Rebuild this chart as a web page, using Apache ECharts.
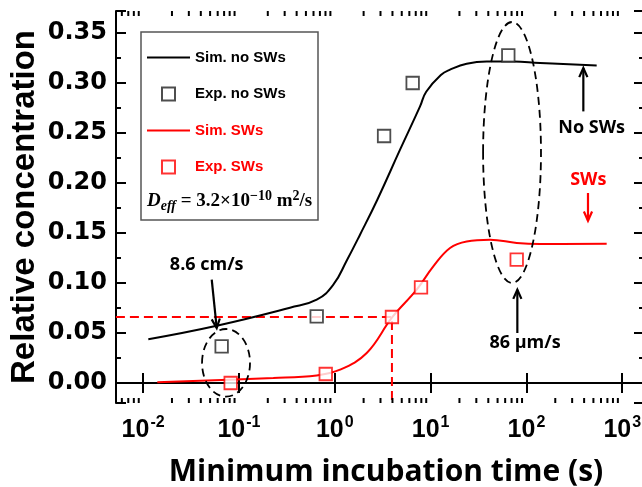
<!DOCTYPE html>
<html><head><meta charset="utf-8">
<script src="https://cdn.jsdelivr.net/npm/echarts@6/dist/echarts.min.js"></script>
<style>html,body{margin:0;padding:0;background:#fff}#c{width:642px;height:487px}</style>
</head><body><div id="c"></div>
<script>
// ---------- data ----------
const simNoT = [0.01133, 0.0586, 0.341, 0.648, 0.966, 1.33, 1.834, 2.78, 4.80, 7.76, 9.0, 12.9, 15.95, 23.8, 38.5, 73, 138.7, 541];
const simNoV = [0.0438, 0.0573, 0.0753, 0.0833, 0.0983, 0.1223, 0.1483, 0.1833, 0.2333, 0.2766, 0.2913, 0.3083, 0.3133, 0.3193, 0.3216, 0.3216, 0.3200, 0.3176];
const expNoT = [0.066, 0.648, 3.27, 6.5, 64.7];
const expNoV = [0.0366, 0.0666, 0.247, 0.300, 0.3276];
const simSwT = [0.01407, 0.2285, 0.648, 1.135, 2.155, 3.98, 7.16, 10.67, 15.95, 23.8, 41.7, 79.2, 138.7, 688];
const simSwV = [0.0008, 0.0050, 0.0076, 0.0133, 0.0300, 0.0658, 0.0933, 0.1166, 0.1350, 0.1416, 0.1433, 0.1400, 0.1390, 0.1393];
const expSwT = [0.082, 0.805, 3.95, 7.94, 79.2];
const expSwV = [0.000, 0.009, 0.066, 0.0956, 0.1233];
const guideT = [0.0052, 3.95, 3.95];
const guideV = [0.066, 0.066, -0.02];
const xMajorTicks = [0.01, 0.1, 1, 10, 100, 1000];
const xMinorTicks = [0.006,0.007,0.008,0.009,0.02,0.03,0.04,0.05,0.06,0.07,0.08,0.09,0.2,0.3,0.4,0.5,0.6,0.7,0.8,0.9,2,3,4,5,6,7,8,9,20,30,40,50,60,70,80,90,200,300,400,500,600,700,800,900];
const yMinorTicks = [0.025,0.075,0.125,0.175,0.225,0.275,0.325];
// annotations (data coordinates)
const ellipseTLeft = [0.0412, 35.3];
const ellipseTRight = [0.1305, 141.9];
const ellipseVBottom = [-0.0137, 0.100];
const ellipseVTop = [0.054, 0.361];
const arrowFromT = [0.052, 392.6, 439, 80.4];
const arrowFromV = [0.1033, 0.2716, 0.190, 0.050];
const arrowToT = [0.0586, 392.6, 439, 80.4];
const arrowToV = [0.055, 0.315, 0.1623, 0.0933];
const noteText = ['8.6 cm/s', 'No SWs', 'SWs', '86 \u03bcm/s'];
const noteT = [0.0461, 480, 442, 96.7];
const noteV = [0.1183, 0.255, 0.2033, 0.040];

// ---------- styling ----------
const RED = '#ff0000';
const arrowColors = ['#000', '#000', RED, '#000'];
const noteColors = ['#000', '#000', RED, '#000'];
const X_MIN = Math.pow(10, -2.283), X_MAX = Math.pow(10, 3.227);
const Y_MIN = -0.02, Y_MAX = 0.372;
const pair = (a, b) => a.map((v, i) => [v, b[i]]);
const LINE_ICON = 'path://M0,0H43V2.2H0Z';
const SQ_ICON = 'path://M0,0H10V10H0Z';

const chart = echarts.init(document.getElementById('c'), null, {renderer: 'canvas'});
const axisLineStyle = {show: true, lineStyle: {color: '#000', width: 2}};
const xBase = {type: 'log', logBase: 10, min: X_MIN, max: X_MAX, gridIndex: 0,
  splitLine: {show: false}, axisLine: axisLineStyle,
  axisTick: {show: true, inside: true, length: 10, lineStyle: {color: '#000', width: 2}}};
const yBase = {type: 'value', min: Y_MIN, max: Y_MAX, splitNumber: 8, gridIndex: 0,
  splitLine: {show: false}, axisLine: axisLineStyle,
  axisTick: {show: true, inside: true, length: 10, lineStyle: {color: '#000', width: 2}}};

const option = {
  animation: false,
  backgroundColor: '#fff',
  grid: {left: 116, top: 11, width: 528, height: 392, containLabel: false, outerBoundsMode: 'none'},
  xAxis: [
    Object.assign({}, xBase, {position: 'bottom',
      name: 'Minimum incubation time (s)', nameLocation: 'middle', nameGap: 52,
      nameTextStyle: {fontFamily: 'Open Sans', fontWeight: 'bold', fontSize: 30, color: '#000', lineHeight: 34, padding: [0, 0, 0, 12]},
      axisLabel: {margin: 12, color: '#000',
        formatter: function (v) {
          const e = Math.log10(v), r = Math.round(e);
          if (Math.abs(e - r) > 1e-6) return '';
          return '{b|10}{s|' + r + '}';
        },
        rich: {
          b: {fontFamily: 'Liberation Sans', fontWeight: 'bold', fontSize: 25, lineHeight: 28, verticalAlign: 'bottom', color: '#000'},
          s: {fontFamily: 'Liberation Sans', fontWeight: 'bold', fontSize: 16, lineHeight: 16, padding: [0, 0, 19, 1], verticalAlign: 'top', color: '#000'}
        }}}),
    Object.assign({}, xBase, {position: 'top', axisLabel: {show: false}})
  ],
  yAxis: [
    Object.assign({}, yBase, {position: 'left',
      name: 'Relative concentration', nameLocation: 'middle', nameGap: 73, nameMoveOverlap: false,
      nameTextStyle: {fontFamily: 'Liberation Sans', fontWeight: 'bold', fontSize: 33, color: '#000', lineHeight: 36},
      axisLabel: {margin: 9, color: '#000', fontFamily: 'DejaVu Sans', fontWeight: 'bold', fontSize: 24,
        formatter: function (v) {
          const k = v / 0.05;
          if (Math.abs(k - Math.round(k)) > 1e-6) return '';
          return v.toFixed(2);
        }}}),
    Object.assign({}, yBase, {position: 'right', axisLabel: {show: false}})
  ],
  legend: {
    orient: 'vertical', left: 147, top: 50, padding: 0,
    itemWidth: 43, itemHeight: 13, itemGap: 21.5,
    textStyle: {fontFamily: 'Liberation Sans', fontWeight: 'bold', fontSize: 15},
    data: [
      {name: 'Sim. no SWs', icon: LINE_ICON, textStyle: {color: '#000'}},
      {name: 'Exp. no SWs', icon: SQ_ICON, textStyle: {color: '#000'}},
      {name: 'Sim. SWs', icon: LINE_ICON, textStyle: {color: RED}},
      {name: 'Exp. SWs', icon: SQ_ICON, textStyle: {color: RED}}
    ],
    selectedMode: false
  },
  graphic: [
    {type: 'rect', shape: {x: 141, y: 32, width: 177, height: 188}, style: {fill: null, stroke: '#555', lineWidth: 1.5}, z: 1},
    {type: 'text', x: 147, y: 189, z: 2, style: {
      text: '{d|D}{e|eff}{n| = 3.2\u00d710}{p|\u221210}{n| m}{q|2}{n|/s}',
      rich: {
        d: {fontFamily: 'Liberation Serif', fontStyle: 'italic', fontWeight: 'bold', fontSize: 19, lineHeight: 24, verticalAlign: 'middle', fill: '#000'},
        e: {fontFamily: 'Liberation Serif', fontStyle: 'italic', fontWeight: 'bold', fontSize: 14, lineHeight: 14, padding: [10, 0, 0, 0], verticalAlign: 'bottom', fill: '#000'},
        n: {fontFamily: 'Liberation Serif', fontWeight: 'bold', fontSize: 19, lineHeight: 24, verticalAlign: 'middle', fill: '#000'},
        p: {fontFamily: 'Liberation Serif', fontWeight: 'bold', fontSize: 14, lineHeight: 14, padding: [0, 0, 10, 0], verticalAlign: 'top', fill: '#000'},
        q: {fontFamily: 'Liberation Serif', fontWeight: 'bold', fontSize: 14, lineHeight: 14, padding: [0, 0, 10, 0], verticalAlign: 'top', fill: '#000'}
      }}}
  ],
  series: [
    {name: 'guide', type: 'line', data: pair(guideT, guideV), symbol: 'none', silent: true, z: 2,
      lineStyle: {color: RED, width: 2, type: [9, 5]}},
    {name: 'Sim. no SWs', type: 'line', data: pair(simNoT, simNoV), symbol: 'none', smooth: 0.45,
      lineStyle: {color: '#000', width: 2}, itemStyle: {color: '#000'}, z: 3},
    {name: 'Sim. SWs', type: 'line', data: pair(simSwT, simSwV), symbol: 'none', smooth: 0.4,
      lineStyle: {color: RED, width: 2}, itemStyle: {color: RED}, z: 3},
    {name: 'Exp. no SWs', type: 'scatter', data: pair(expNoT, expNoV), symbol: 'rect', symbolSize: 12.5, z: 5,
      itemStyle: {color: '#fff', borderColor: '#222', borderWidth: 1.8}},
    {name: 'Exp. SWs', type: 'scatter', data: pair(expSwT, expSwV), symbol: 'rect', symbolSize: 12.5, z: 5,
      itemStyle: {color: '#fff', borderColor: RED, borderWidth: 1.8}},
    {name: 'ellipses', type: 'custom', silent: true, clip: false, z: 4,
      data: ellipseTLeft.map((v, i) => [v, ellipseVTop[i], ellipseTRight[i], ellipseVBottom[i]]),
      encode: {x: [0, 2], y: [1, 3]},
      renderItem: function (params, api) {
        const a = api.coord([api.value(0), api.value(1)]);
        const b = api.coord([api.value(2), api.value(3)]);
        return {type: 'ellipse', shape: {cx: (a[0] + b[0]) / 2, cy: (a[1] + b[1]) / 2, rx: Math.abs(b[0] - a[0]) / 2, ry: Math.abs(b[1] - a[1]) / 2},
          style: {fill: null, stroke: '#000', lineWidth: 1.8, lineDash: [8, 5]}};
      }},
    {name: 'arrows', type: 'custom', silent: true, clip: false, z: 6,
      data: arrowFromT.map((v, i) => [v, arrowFromV[i], arrowToT[i], arrowToV[i]]),
      encode: {x: [0, 2], y: [1, 3]},
      renderItem: function (params, api) {
        const p0 = api.coord([api.value(0), api.value(1)]);
        const p1 = api.coord([api.value(2), api.value(3)]);
        const ang = Math.atan2(p1[1] - p0[1], p1[0] - p0[0]);
        const L = 10, w = 0.42;
        const h1 = [p1[0] - L * Math.cos(ang - w), p1[1] - L * Math.sin(ang - w)];
        const h2 = [p1[0] - L * Math.cos(ang + w), p1[1] - L * Math.sin(ang + w)];
        const c = arrowColors[params.dataIndex];
        return {type: 'group', children: [
          {type: 'line', shape: {x1: p0[0], y1: p0[1], x2: p1[0], y2: p1[1]}, style: {stroke: c, lineWidth: 2.2}},
          {type: 'polyline', shape: {points: [h1, p1, h2]}, style: {stroke: c, lineWidth: 2.2, fill: null}}
        ]};
      }},
    {name: 'notes', type: 'custom', silent: true, clip: false, z: 6,
      data: pair(noteT, noteV),
      renderItem: function (params, api) {
        const p = api.coord([api.value(0), api.value(1)]);
        return {type: 'text', x: p[0], y: p[1], style: {text: noteText[params.dataIndex], fill: noteColors[params.dataIndex],
          fontFamily: 'Open Sans', fontWeight: 'bold', fontSize: 18, align: 'center', verticalAlign: 'middle'}};
      }},
    {name: 'xminor', type: 'custom', silent: true, clip: false, z: 6,
      data: xMinorTicks.map(v => [v, Y_MIN]),
      renderItem: function (params, api) {
        const b = api.coord([api.value(0), Y_MIN]);
        const t = api.coord([api.value(0), Y_MAX]);
        const s = {stroke: '#000', lineWidth: 2};
        return {type: 'group', children: [
          {type: 'line', shape: {x1: b[0], y1: b[1], x2: b[0], y2: b[1] - 5}, style: s},
          {type: 'line', shape: {x1: t[0], y1: t[1], x2: t[0], y2: t[1] + 5}, style: s}
        ]};
      }},
    {name: 'yminor', type: 'custom', silent: true, clip: false, z: 6,
      data: yMinorTicks.map(v => [X_MIN, v]),
      renderItem: function (params, api) {
        const l = api.coord([X_MIN, api.value(1)]);
        const r = api.coord([X_MAX, api.value(1)]);
        const s = {stroke: '#000', lineWidth: 2};
        return {type: 'group', children: [
          {type: 'line', shape: {x1: l[0], y1: l[1], x2: l[0] + 5, y2: l[1]}, style: s},
          {type: 'line', shape: {x1: r[0], y1: r[1], x2: r[0] - 5, y2: r[1]}, style: s}
        ]};
      }}
  ]
};
chart.setOption(option);
</script></body></html>
